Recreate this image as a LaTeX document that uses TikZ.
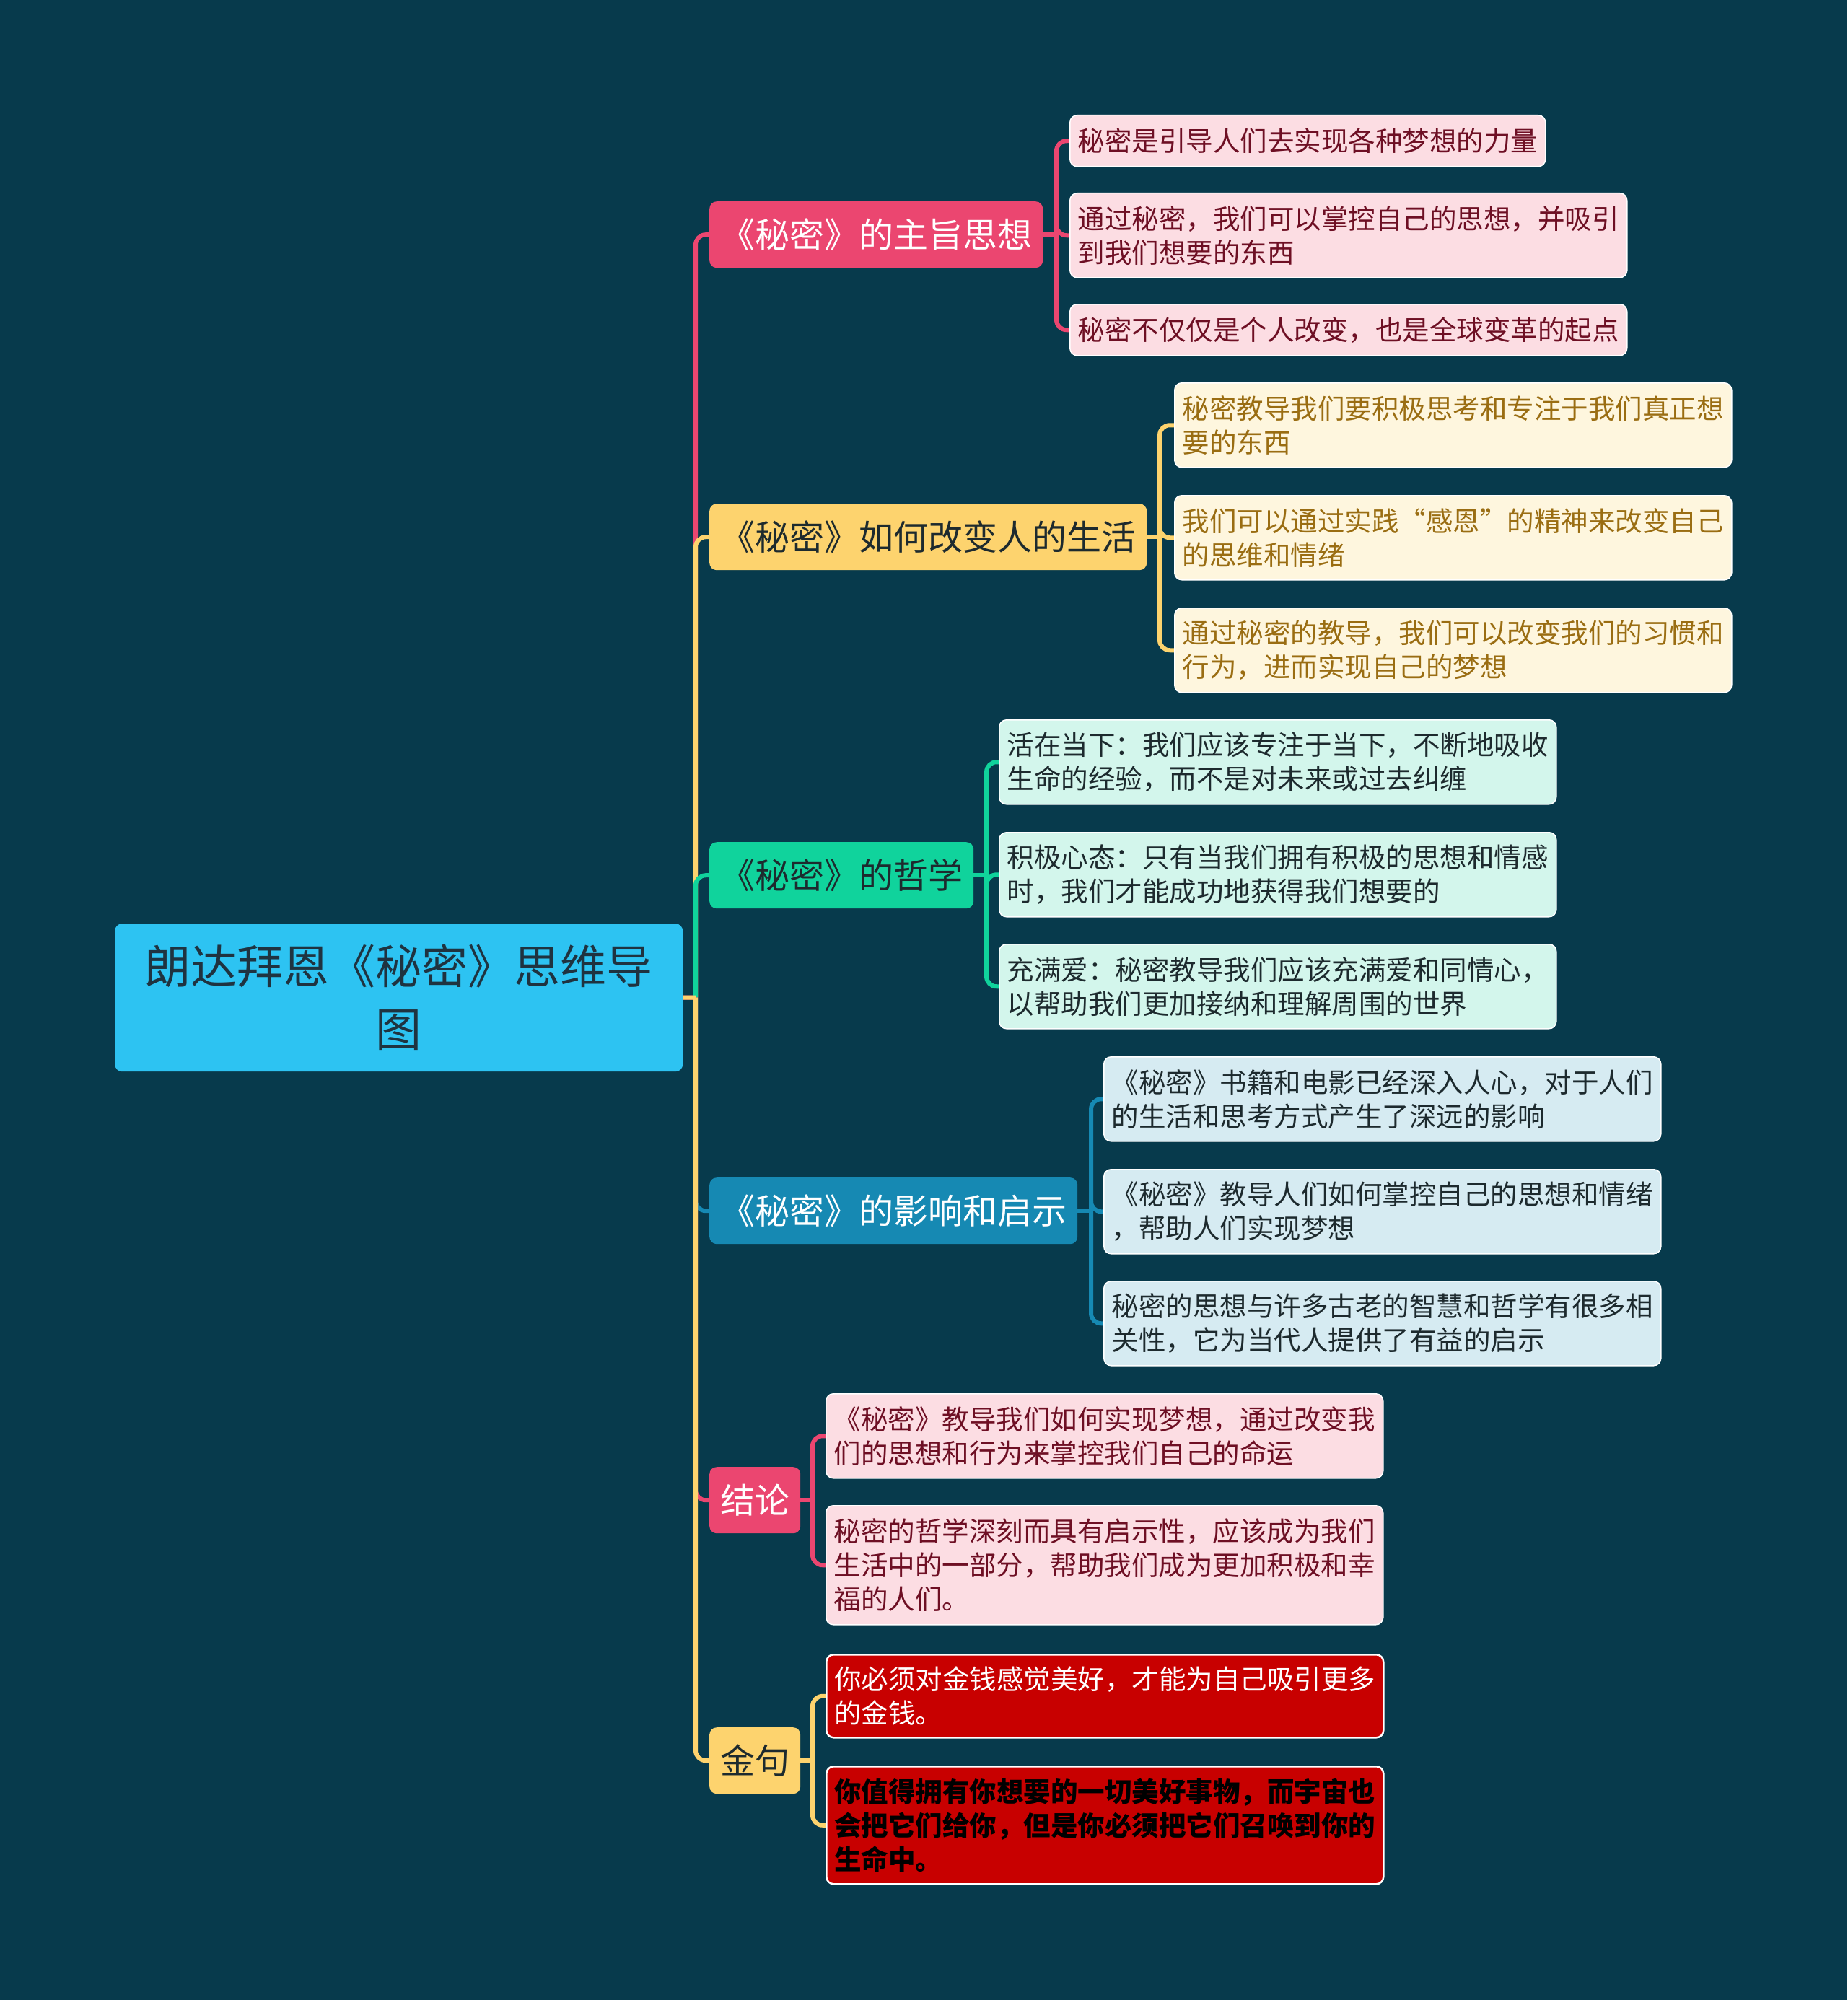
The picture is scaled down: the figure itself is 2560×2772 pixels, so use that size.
\documentclass[tikz,border=0pt]{standalone}
\usepackage{fontspec}
\setmainfont{Noto Sans CJK SC}
\usetikzlibrary{positioning}
\definecolor{bgC}{HTML}{073A4C}
\definecolor{rootC}{HTML}{2DC3F2}
\definecolor{pinkC}{HTML}{EB4670}
\definecolor{yelC}{HTML}{FDD36E}
\definecolor{greenC}{HTML}{10D39C}
\definecolor{blueC}{HTML}{1689B3}
\definecolor{leafPink}{HTML}{FCDDE3}
\definecolor{txtPink}{HTML}{6E0F24}
\definecolor{leafCream}{HTML}{FEF6DE}
\definecolor{txtCream}{HTML}{9A6D12}
\definecolor{leafMint}{HTML}{D3F6EC}
\definecolor{leafBlue}{HTML}{D6EBF2}
\definecolor{txtDark}{HTML}{1D2A2E}
\definecolor{rootTxt}{HTML}{1F3340}
\definecolor{redC}{HTML}{C80000}
\pgfdeclarelayer{bgfill}
\pgfdeclarelayer{lines}
\pgfsetlayers{bgfill,lines,main}
\tikzset{
  rootbox/.style={anchor=north west, rounded corners=10pt, fill=rootC, text=rootTxt,
    minimum width=787pt, minimum height=205pt, text width=720pt, align=center,
    inner xsep=0pt, inner ysep=0pt, font=\fontsize{64pt}{87pt}\selectfont},
  branchbox/.style={anchor=north west, rounded corners=10pt, minimum height=92pt,
    inner xsep=15pt, inner ysep=0pt, font=\fontsize{48pt}{60pt}\selectfont},
  leafbox/.style={anchor=north west, rounded corners=10pt, draw=white, line width=1.5pt,
    inner xsep=11pt, inner ysep=0pt, align=left, text width=750pt,
    font=\fontsize{37.5pt}{47pt}\selectfont},
  pinkleaf/.style={leafbox, fill=leafPink, text=txtPink},
  creamleaf/.style={leafbox, fill=leafCream, text=txtCream},
  mintleaf/.style={leafbox, fill=leafMint, text=txtDark},
  blueleaf/.style={leafbox, fill=leafBlue, text=txtDark},
  redleaf/.style={leafbox, fill=redC, line width=2.5pt},
  conn/.style={line width=6pt, rounded corners=14pt},
}
\begin{document}
\begin{tikzpicture}[x=1pt,y=-1pt]
\begin{pgfonlayer}{bgfill}
\fill[bgC] (0,0) rectangle (2560,2772);
\end{pgfonlayer}
\useasboundingbox (0,0) rectangle (2560,2772);

% root
\node[rootbox] (root) at (159,1280) {朗达拜恩《秘密》思维导\\图};

% branches
\node[branchbox, fill=pinkC, text=white] (b1) at (983,279) {《秘密》的主旨思想};
\node[branchbox, fill=yelC, text=txtDark] (b2) at (983,698) {《秘密》如何改变人的生活};
\node[branchbox, fill=greenC, text=txtDark] (b3) at (983,1167) {《秘密》的哲学};
\node[branchbox, fill=blueC, text=white] (b4) at (983,1632) {《秘密》的影响和启示};
\node[branchbox, fill=pinkC, text=white] (b5) at (983,2033) {结论};
\node[branchbox, fill=yelC, text=txtDark] (b6) at (983,2394) {金句};

% leaves of b1
\node[pinkleaf, text width=637pt, minimum height=71pt] (l11) at (1482,159) {秘密是引导人们去实现各种梦想的力量};
\node[pinkleaf, minimum height=117pt] (l12) at (1482,267) {通过秘密，我们可以掌控自己的思想，并吸引\\到我们想要的东西};
\node[pinkleaf, minimum height=71pt] (l13) at (1482,421) {秘密不仅仅是个人改变，也是全球变革的起点};

% leaves of b2
\node[creamleaf, minimum height=117pt] (l21) at (1627,530) {秘密教导我们要积极思考和专注于我们真正想\\要的东西};
\node[creamleaf, minimum height=117pt] (l22) at (1627,686) {我们可以通过实践“感恩”的精神来改变自己\\的思维和情绪};
\node[creamleaf, minimum height=117pt] (l23) at (1627,842) {通过秘密的教导，我们可以改变我们的习惯和\\行为，进而实现自己的梦想};

% leaves of b3
\node[mintleaf, minimum height=117pt] (l31) at (1384,997) {活在当下：我们应该专注于当下，不断地吸收\\生命的经验，而不是对未来或过去纠缠};
\node[mintleaf, minimum height=117pt] (l32) at (1384,1153) {积极心态：只有当我们拥有积极的思想和情感\\时，我们才能成功地获得我们想要的};
\node[mintleaf, minimum height=117pt] (l33) at (1384,1308) {充满爱：秘密教导我们应该充满爱和同情心，\\以帮助我们更加接纳和理解周围的世界};

% leaves of b4
\node[blueleaf, minimum height=117pt] (l41) at (1529,1464) {《秘密》书籍和电影已经深入人心，对于人们\\的生活和思考方式产生了深远的影响};
\node[blueleaf, minimum height=117pt] (l42) at (1529,1620) {《秘密》教导人们如何掌控自己的思想和情绪\\，帮助人们实现梦想};
\node[blueleaf, minimum height=117pt] (l43) at (1529,1775) {秘密的思想与许多古老的智慧和哲学有很多相\\关性，它为当代人提供了有益的启示};

% leaves of b5
\node[pinkleaf, minimum height=117pt] (l51) at (1144,1931) {《秘密》教导我们如何实现梦想，通过改变我\\们的思想和行为来掌控我们自己的命运};
\node[pinkleaf, minimum height=165pt] (l52) at (1144,2086) {秘密的哲学深刻而具有启示性，应该成为我们\\生活中的一部分，帮助我们成为更加积极和幸\\福的人们。};

% leaves of b6
\node[redleaf, text=white, minimum height=115pt] (l61) at (1144,2292) {你必须对金钱感觉美好，才能为自己吸引更多\\的金钱。};
\node[redleaf, text=black, minimum height=163pt, font=\fontsize{37.5pt}{47pt}\selectfont\bfseries] (l62) at (1144,2447) {你值得拥有你想要的一切美好事物，而宇宙也\\会把它们给你，但是你必须把它们召唤到你的\\生命中。};

% connectors
\begin{pgfonlayer}{lines}
\coordinate (tr) at (964,1382.5);
\draw[conn, pinkC] (root.east) -- (tr);
\draw[conn, pinkC] (tr) |- (b1.west);
\draw[conn, yelC] (tr) |- (b2.west);
\draw[conn, greenC] (tr) |- (b3.west);
\draw[conn, blueC] (tr) |- (b4.west);
\draw[conn, pinkC] (tr) |- (b5.west);
\draw[conn, yelC] (root.east) -- (tr);
\draw[conn, yelC] (tr) |- (b6.west);

\coordinate (s1) at (b1.east -| 1464,0);
\draw[conn, pinkC] (b1.east) -- (s1);
\foreach \n in {l11,l12,l13} \draw[conn, pinkC] (s1) |- (\n.west);

\coordinate (s2) at (b2.east -| 1607,0);
\draw[conn, yelC] (b2.east) -- (s2);
\foreach \n in {l21,l22,l23} \draw[conn, yelC] (s2) |- (\n.west);

\coordinate (s3) at (b3.east -| 1367,0);
\draw[conn, greenC] (b3.east) -- (s3);
\foreach \n in {l31,l32,l33} \draw[conn, greenC] (s3) |- (\n.west);

\coordinate (s4) at (b4.east -| 1512,0);
\draw[conn, blueC] (b4.east) -- (s4);
\foreach \n in {l41,l42,l43} \draw[conn, blueC] (s4) |- (\n.west);

\coordinate (s5) at (b5.east -| 1126,0);
\draw[conn, pinkC] (b5.east) -- (s5);
\foreach \n in {l51,l52} \draw[conn, pinkC] (s5) |- (\n.west);

\coordinate (s6) at (b6.east -| 1126,0);
\draw[conn, yelC] (b6.east) -- (s6);
\foreach \n in {l61,l62} \draw[conn, yelC] (s6) |- (\n.west);
\end{pgfonlayer}
\end{tikzpicture}
\end{document}
